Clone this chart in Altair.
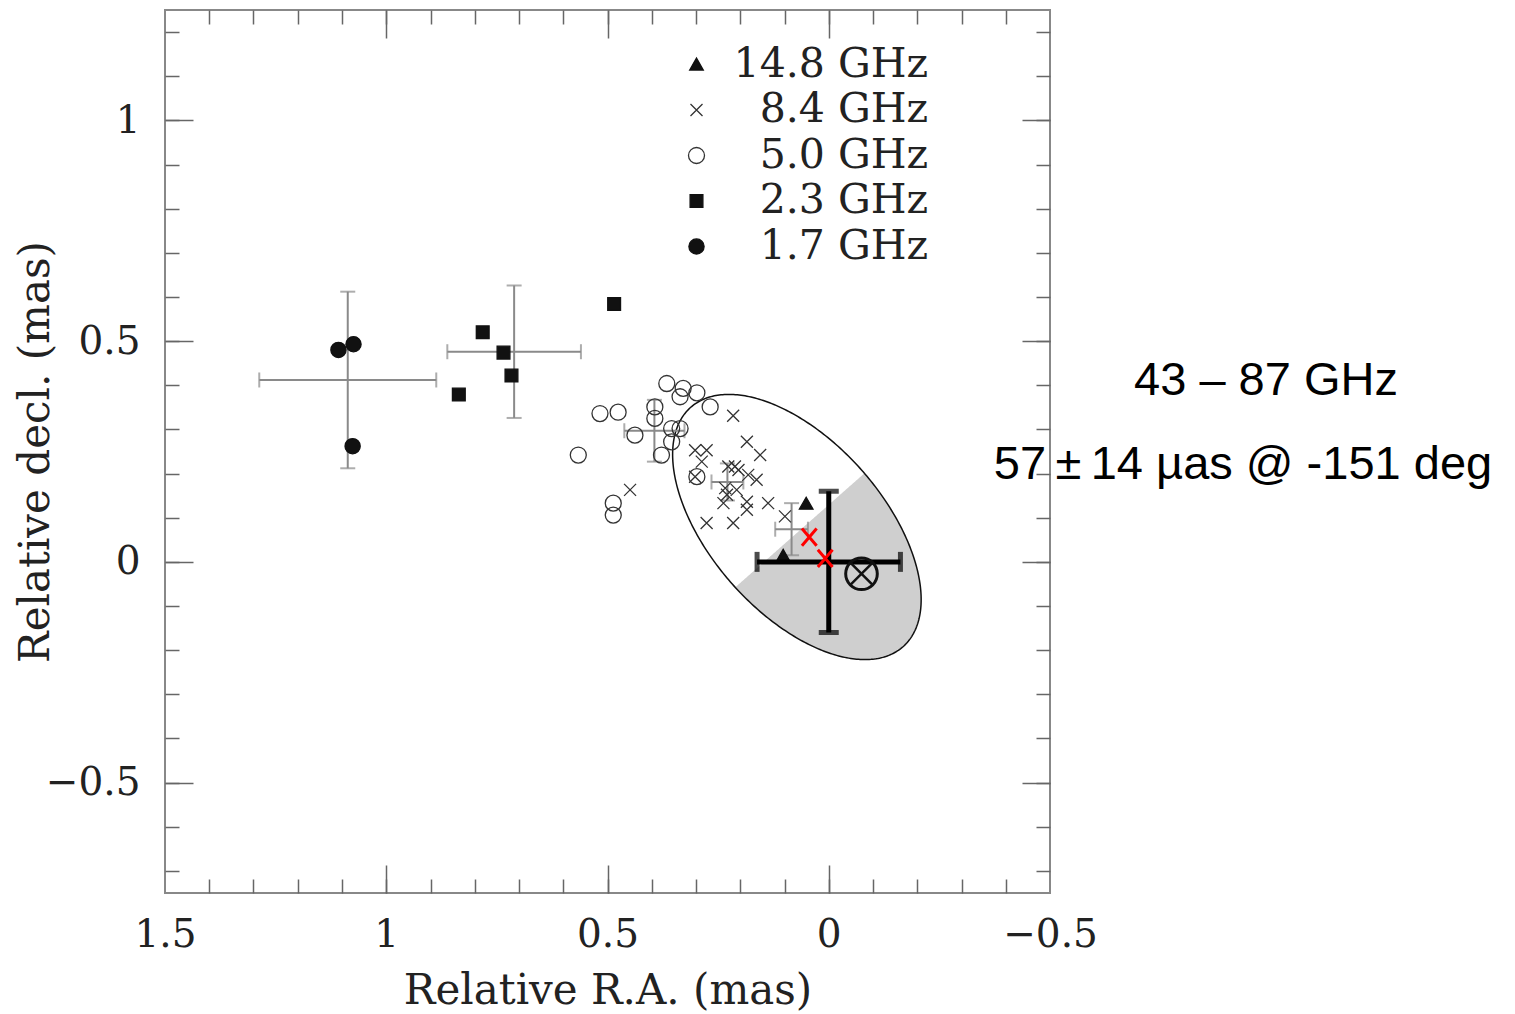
import altair as alt
import numpy as np
import pandas as pd

# ---------------- data ----------------
bands = ["14.8 GHz", "8.4 GHz", "5.0 GHz", "2.3 GHz", "1.7 GHz"]
band_shapes = [
    "M0,-0.8L0.85,0.7L-0.85,0.7Z",
    "M-0.75,-0.75L0.75,0.75M-0.75,0.75L0.75,-0.75",
    "M1,0A1,1,0,1,1,-1,0A1,1,0,1,1,1,0Z",
    "M-0.8,-0.8L0.8,-0.8L0.8,0.8L-0.8,0.8Z",
    "M0.95,0A0.95,0.95,0,1,1,-0.95,0A0.95,0.95,0,1,1,0.95,0Z",
]
band_fills = ["#111111", "transparent", "transparent", "#111111", "#111111"]
band_strokes = ["#111111", "#333333", "#333333", "#111111", "#111111"]

ra_148 = [0.051, 0.103]
dec_148 = [0.132, 0.014]

ra_84 = [0.216, 0.185, 0.155, 0.302, 0.276, 0.287, 0.302, 0.212, 0.227, 0.204, 0.182, 0.163,
         0.234, 0.208, 0.230, 0.238, 0.185, 0.185, 0.137, 0.276, 0.216, 0.099, 0.449]
dec_84 = [0.331, 0.272, 0.242, 0.253, 0.253, 0.227, 0.193, 0.216, 0.216, 0.208, 0.197, 0.186,
          0.167, 0.163, 0.152, 0.133, 0.136, 0.118, 0.133, 0.088, 0.088, 0.103, 0.163]

ra_50 = [0.366, 0.329, 0.336, 0.298, 0.268, 0.517, 0.476, 0.393, 0.393, 0.438, 0.355, 0.336,
         0.355, 0.378, 0.566, 0.487, 0.487, 0.298]
dec_50 = [0.404, 0.393, 0.374, 0.383, 0.351, 0.336, 0.339, 0.351, 0.325, 0.287, 0.302, 0.302,
          0.272, 0.242, 0.242, 0.133, 0.106, 0.193]

ra_23 = [0.782, 0.735, 0.717, 0.836, 0.485]
dec_23 = [0.520, 0.474, 0.422, 0.379, 0.584]

ra_17 = [1.108, 1.074, 1.076]
dec_17 = [0.480, 0.493, 0.262]

# gray error crosses (one per band)
eb_ra = [1.087, 0.711, 0.394, 0.229, 0.084]
eb_dec = [0.412, 0.476, 0.297, 0.181, 0.074]
eb_ra_err = [0.200, 0.151, 0.068, 0.036, 0.037]
eb_dec_err = [0.200, 0.150, 0.070, 0.042, 0.059]

# 43-87 GHz core position with thick error cross
core_ra = [0.0]
core_dec = [0.0]
core_ra_err = [0.162]
core_dec_err = [0.160]

# red markers
red_ra = [0.044, 0.008]
red_dec = [0.056, 0.008]

# circled cross
ot_ra = [-0.074]
ot_dec = [-0.027]

# error ellipse (centre, semi-axes in mas, tilt in degrees on the plot)
ell_ra0, ell_dec0 = 0.072, 0.079
ell_a, ell_b = 0.362, 0.195
ell_tilt = 48.5
ell_cut = 0.01  # shaded part: beyond this distance along the major axis

# axis ticks
x_labels = [1.5, 1, 0.5, 0, -0.5]
x_major = [1, 0.5, 0]
x_minor = [1.4, 1.3, 1.2, 1.1, 1.0, 0.9, 0.8, 0.7, 0.6, 0.5, 0.4, 0.3, 0.2, 0.1, 0.0,
           -0.1, -0.2, -0.3, -0.4]
y_labels = [1, 0.5, 0, -0.5]
y_major = [1, 0.5, 0, -0.5]
y_minor = [1.2, 1.1, 1.0, 0.9, 0.8, 0.7, 0.6, 0.5, 0.4, 0.3, 0.2, 0.1, 0.0, -0.1, -0.2,
           -0.3, -0.4, -0.5, -0.6, -0.7]

note_lines = ["43 \u2013 87 GHz", "57\u2009\u00b1\u200914 \u00b5as @ -151 deg"]

# ---------------- tables ----------------
points = pd.DataFrame({
    "ra": ra_148 + ra_84 + ra_50 + ra_23 + ra_17,
    "dec": dec_148 + dec_84 + dec_50 + dec_23 + dec_17,
    "band": [bands[0]] * len(ra_148) + [bands[1]] * len(ra_84) + [bands[2]] * len(ra_50)
            + [bands[3]] * len(ra_23) + [bands[4]] * len(ra_17),
})


def err_tables(ra, dec, rerr, derr):
    ra, dec, rerr, derr = map(np.array, (ra, dec, rerr, derr))
    bars = pd.DataFrame({"ra": ra, "dec": dec, "ra_lo": ra - rerr, "ra_hi": ra + rerr,
                         "dec_lo": dec - derr, "dec_hi": dec + derr})
    capv = pd.DataFrame({"ra": np.concatenate([ra - rerr, ra + rerr]),
                         "dec": np.concatenate([dec, dec])})
    caph = pd.DataFrame({"ra": np.concatenate([ra, ra]),
                         "dec": np.concatenate([dec - derr, dec + derr])})
    return bars, capv, caph


eb, eb_capv, eb_caph = err_tables(eb_ra, eb_dec, eb_ra_err, eb_dec_err)
core, core_capv, core_caph = err_tables(core_ra, core_dec, core_ra_err, core_dec_err)

th = np.deg2rad(ell_tilt)


def ell_pt(t):
    u = ell_a * np.cos(t)
    v = ell_b * np.sin(t)
    dx = u * np.cos(th) - v * np.sin(th)
    dy = u * np.sin(th) + v * np.cos(th)
    return ell_ra0 - dx, ell_dec0 - dy


tt = np.linspace(0, 2 * np.pi, 361)
er, ed = ell_pt(tt)
ellipse = pd.DataFrame({"ra": er, "dec": ed, "i": np.arange(len(tt))})

t0 = np.arccos(ell_cut / ell_a)
pr, pdd = ell_pt(np.linspace(-t0, t0, 400))
pr = np.append(pr, pr[0])
pdd = np.append(pdd, pdd[0])
grid = np.linspace(pr.min() + 1e-6, pr.max() - 1e-6, 300)
lo, hi = [], []
for g in grid:
    ys_ = []
    for k in range(len(pr) - 1):
        x1, x2 = pr[k], pr[k + 1]
        if (x1 - g) * (x2 - g) <= 0 and x1 != x2:
            f = (g - x1) / (x2 - x1)
            ys_.append(pdd[k] + f * (pdd[k + 1] - pdd[k]))
    lo.append(min(ys_))
    hi.append(max(ys_))
shade = pd.DataFrame({"ra": grid, "lo": lo, "hi": hi})

red = pd.DataFrame({"ra": red_ra, "dec": red_dec})
ot = pd.DataFrame({"ra": ot_ra, "dec": ot_dec})
notes = pd.DataFrame({"t": note_lines})

# ---------------- chart ----------------
W, H = 885, 883
SERIF = "DejaVu Serif"
TICK = "#666666"
GRAY = "#8a8a8a"
xs = alt.Scale(domain=[-0.5, 1.5], reverse=True, nice=False, zero=False)
ys = alt.Scale(domain=[-0.75, 1.25], nice=False, zero=False)


def tick_axis(orient, values, size, offset):
    return alt.Axis(orient=orient, offset=offset, values=values, tickSize=size, ticks=True,
                    labels=False, domain=False, grid=False, title=None,
                    tickColor=TICK, tickWidth=1.5)


x_lab_axis = alt.Axis(orient="bottom", values=x_labels, format="~g", ticks=False, tickSize=0,
                      domain=False, grid=False, labelFont=SERIF, labelFontSize=39,
                      labelColor="#222222", labelPadding=22, labelFlush=False,
                      labelOverlap=False, title="Relative R.A. (mas)", titleFont=SERIF,
                      titleFontSize=42, titleFontWeight="normal", titleColor="#222222",
                      titleBaseline="alphabetic", titleX=W / 2, titleY=110)
y_lab_axis = alt.Axis(orient="left", values=y_labels, format="~g", ticks=False, tickSize=0,
                      domain=False, grid=False, labelFont=SERIF, labelFontSize=39,
                      labelColor="#222222", labelPadding=25, labelFlush=False,
                      labelOverlap=False, title="Relative decl. (mas)", titleFont=SERIF,
                      titleFontSize=42, titleFontWeight="normal", titleColor="#222222",
                      titleBaseline="alphabetic", titleAngle=270, titleX=-117, titleY=H / 2)

shade_l = alt.Chart(shade).mark_area(color="#cfcfcf", opacity=1).encode(
    x=alt.X("ra:Q", scale=xs, axis=x_lab_axis),
    y=alt.Y("lo:Q", scale=ys, axis=y_lab_axis),
    y2="hi:Q",
)

ell_l = alt.Chart(ellipse).mark_line(color="#111111", strokeWidth=1.5).encode(
    x=alt.X("ra:Q", scale=xs, axis=tick_axis("top", x_major, 28, -H)),
    y=alt.Y("dec:Q", scale=ys, axis=tick_axis("right", y_major, 28, -W)),
    order="i:Q",
)

ebh_l = alt.Chart(eb).mark_rule(color=GRAY, strokeWidth=2).encode(
    x=alt.X("ra_lo:Q", scale=xs, axis=tick_axis("top", x_minor, 14, -H)),
    x2="ra_hi:Q",
    y=alt.Y("dec:Q", scale=ys, axis=tick_axis("right", y_minor, 14, -W)),
)
ebv_l = alt.Chart(eb).mark_rule(color=GRAY, strokeWidth=2).encode(
    x=alt.X("ra:Q", scale=xs, axis=tick_axis("bottom", x_major, 28, -H)),
    y=alt.Y("dec_lo:Q", scale=ys, axis=tick_axis("left", y_major, 28, -W)),
    y2="dec_hi:Q",
)
ebcv_l = alt.Chart(eb_capv).mark_tick(color=GRAY, orient="vertical", size=15, thickness=2).encode(
    x=alt.X("ra:Q", scale=xs, axis=tick_axis("bottom", x_minor, 14, -H)),
    y=alt.Y("dec:Q", scale=ys, axis=tick_axis("left", y_minor, 14, -W)),
)
ebch_l = alt.Chart(eb_caph).mark_tick(color=GRAY, orient="horizontal", size=15, thickness=2).encode(
    x=alt.X("ra:Q", scale=xs, axis=None),
    y=alt.Y("dec:Q", scale=ys, axis=None),
)

leg = alt.Legend(orient="none", legendX=511, legendY=34, title=None, padding=0,
                 labelFont=SERIF, labelFontSize=41, labelColor="#222222", labelLimit=0,
                 labelAlign="right", labelOffset=211, rowPadding=3.5, symbolSize=256,
                 symbolStrokeWidth=1.3)

pts_l = alt.Chart(points).mark_point(filled=True, size=256, strokeWidth=1.3, opacity=1).encode(
    x=alt.X("ra:Q", scale=xs, axis=None),
    y=alt.Y("dec:Q", scale=ys, axis=None),
    shape=alt.Shape("band:N", scale=alt.Scale(domain=bands, range=band_shapes), legend=leg),
    fill=alt.Fill("band:N", scale=alt.Scale(domain=bands, range=band_fills), legend=leg),
    stroke=alt.Stroke("band:N", scale=alt.Scale(domain=bands, range=band_strokes), legend=leg),
)

coreh_l = alt.Chart(core).mark_rule(color="#000000", strokeWidth=5).encode(
    x=alt.X("ra_lo:Q", scale=xs, axis=None), x2="ra_hi:Q",
    y=alt.Y("dec:Q", scale=ys, axis=None),
)
corev_l = alt.Chart(core).mark_rule(color="#000000", strokeWidth=5).encode(
    x=alt.X("ra:Q", scale=xs, axis=None),
    y=alt.Y("dec_lo:Q", scale=ys, axis=None), y2="dec_hi:Q",
)
corecv_l = alt.Chart(core_capv).mark_tick(color="#000000", orient="vertical", size=20, thickness=5).encode(
    x=alt.X("ra:Q", scale=xs, axis=None),
    y=alt.Y("dec:Q", scale=ys, axis=None),
)
corech_l = alt.Chart(core_caph).mark_tick(color="#000000", orient="horizontal", size=20, thickness=5).encode(
    x=alt.X("ra:Q", scale=xs, axis=None),
    y=alt.Y("dec:Q", scale=ys, axis=None),
)

red_l = alt.Chart(red).mark_point(shape="M-0.85,-1L0.85,1M0.85,-1L-0.85,1", size=300,
                                  stroke="#ff0000", strokeWidth=3, opacity=1).encode(
    x=alt.X("ra:Q", scale=xs, axis=None),
    y=alt.Y("dec:Q", scale=ys, axis=None),
)

otc_l = alt.Chart(ot).mark_point(shape="circle", size=1000, stroke="#111111", strokeWidth=3,
                                 opacity=1).encode(
    x=alt.X("ra:Q", scale=xs, axis=None),
    y=alt.Y("dec:Q", scale=ys, axis=None),
)
otx_l = alt.Chart(ot).mark_point(shape="M-0.72,-0.72L0.72,0.72M-0.72,0.72L0.72,-0.72", size=1000,
                                 stroke="#111111", strokeWidth=2.5, opacity=1).encode(
    x=alt.X("ra:Q", scale=xs, axis=None),
    y=alt.Y("dec:Q", scale=ys, axis=None),
)

note1 = alt.Chart(notes).transform_filter(alt.datum.t == note_lines[0]).mark_text(
    font="Liberation Sans", fontSize=47, color="#000000", align="center", baseline="alphabetic"
).encode(x=alt.value(1101), y=alt.value(385), text="t:N")
note2 = alt.Chart(notes).transform_filter(alt.datum.t == note_lines[1]).mark_text(
    font="Liberation Sans", fontSize=47, color="#000000", align="center", baseline="alphabetic"
).encode(x=alt.value(1078), y=alt.value(469), text="t:N")

chart = alt.layer(
    shade_l, ell_l, ebh_l, ebv_l, ebcv_l, ebch_l, pts_l,
    coreh_l, corev_l, corecv_l, corech_l, red_l, otc_l, otx_l, note1, note2
).resolve_axis(
    x="independent", y="independent"
).properties(
    width=W, height=H,
    autosize=alt.AutoSizeParams(type="none"),
    padding={"left": 165, "top": 10, "right": 465, "bottom": 121},
    background="white",
).configure_view(
    stroke="#888888", strokeWidth=2
)

chart.save("out.html", embed_options={"renderer": "svg", "actions": False})
